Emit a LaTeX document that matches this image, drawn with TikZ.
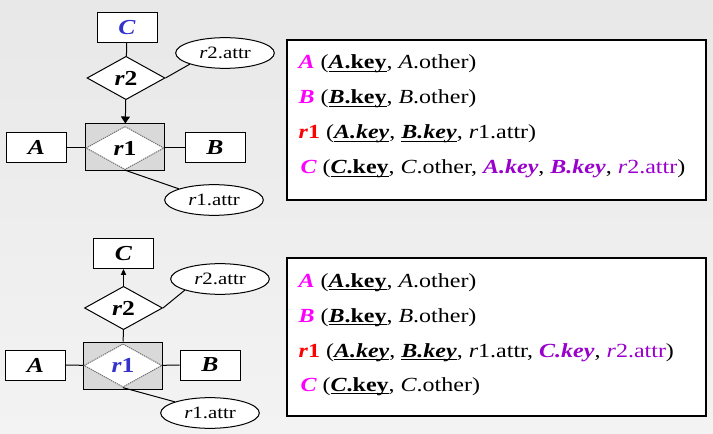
\documentclass[tikz,border=0pt]{standalone}
\usepackage{fontspec}
\setmainfont{Liberation Serif}[FakeStretch=1.2]
\usetikzlibrary{shapes.geometric,arrows.meta}

\definecolor{keymag}{RGB}{255,0,255}
\definecolor{relred}{RGB}{255,0,0}
\definecolor{fkpurp}{RGB}{153,0,204}
\definecolor{entblue}{RGB}{51,51,204}
\definecolor{aggfill}{RGB}{217,217,217}

\newcommand{\bfit}[1]{\textbf{\textit{#1}}}
\newcommand{\keyu}[1]{\sbox0{\textbf{#1}}\rlap{\rule[-2.4pt]{\wd0}{0.9pt}}\usebox0}

\tikzset{every picture/.style={line width=0.75pt}}
\tikzset{
  ent/.style={draw, fill=white, rectangle, minimum width=45pt, minimum height=22.5pt, inner sep=0pt,
    font=\fontsize{16}{19}\selectfont\bfseries\itshape},
  rel/.style={draw, fill=white, diamond, minimum width=58.5pt, minimum height=32.5pt, inner sep=0pt,
    font=\fontsize{16}{19}\selectfont\bfseries\itshape},
  reldot/.style={rel, draw=black!55, dash pattern=on 1pt off 0.6pt},
  aggbox/.style={draw, fill=aggfill, rectangle, minimum width=59.25pt, minimum height=35.25pt, inner sep=0pt},
  attr/.style={draw, fill=white, ellipse, minimum width=74pt, minimum height=23pt, inner sep=0pt,
    font=\fontsize{13}{15}\selectfont},
  schemabox/.style={draw, fill=white, rectangle, line width=1pt, minimum width=314.25pt, inner sep=0pt},
  schemaline/.style={anchor=base west, inner sep=0pt, font=\fontsize{15}{18}\selectfont},
}

\begin{document}
\begin{tikzpicture}[x=0.75pt,y=0.75pt,yscale=-1,xscale=1]
	%Shape: Background
	\shade [top color={rgb,255:red,232;green,232;blue,232}, bottom color={rgb,255:red,243;green,243;blue,243}] (0,0) rectangle (713,434);
	\useasboundingbox (0,0) rectangle (713,434);

	%% ---- top diagram ----
	% Entities
	\node[ent] (A1) at (36.5,147.5) {A};
	\node[ent] (B1) at (215,147.5) {B};
	\node[ent, text=entblue] (C1) at (127,27.5) {C};
	% Aggregation
	\node[aggbox] (agg1) at (125,147.5) {};
	\node[reldot] (r1a) at (125,148) {r\textup{1}};
	\node[rel] (r2a) at (126,78) {r\textup{2}};
	% Attributes
	\node[attr] (r2attr1) at (225,53) {\textit{r}2.attr};
	\node[attr] (r1attr1) at (214,200) {\textit{r}1.attr};
	% Connectors
	\draw (A1) -- (agg1);
	\draw (agg1) -- (B1);
	\draw (C1) -- (r2a);
	\draw [-{Triangle[length=5.25pt,width=6.75pt]}] (r2a) -- (agg1);
	\draw (r2a.east) -- (r2attr1.south west);
	\draw (r1a.south) -- (r1attr1.north west);

	% Schema box
	\node[schemabox, minimum height=120pt] (s1) at (496.5,120) {};
	\node[schemaline] (s1a) at (298,69) {{\color{keymag}\bfit{A}} (\keyu{\textit{A}.key}, \textit{A}.other)};
	\node[schemaline] (s1b) at (298,104) {{\color{keymag}\bfit{B}} (\keyu{\textit{B}.key}, \textit{B}.other)};
	\node[schemaline] (s1c) at (298,139) {{\color{relred}\bfit{r}\textbf{1}} (\keyu{\textit{A.key}}, \keyu{\textit{B.key}}, \textit{r}1.attr)};
	\node[schemaline] (s1d) at (300,174) {{\color{keymag}\bfit{C}} (\keyu{\textit{C}.key}, \textit{C}.other, {\color{fkpurp}\bfit{A.key}}, {\color{fkpurp}\bfit{B.key}}, {\color{fkpurp}\textit{r}2.attr})};

	%% ---- bottom diagram ----
	% Entities
	\node[ent] (A2) at (35.5,365) {A};
	\node[ent] (B2) at (210,365) {B};
	\node[ent] (C2) at (123.5,253.5) {C};
	% Aggregation
	\node[aggbox] (agg2) at (123,365.5) {};
	\node[reldot, text=entblue] (r1b) at (123,365.5) {r\textup{1}};
	\node[rel] (r2b) at (123.5,308) {r\textup{2}};
	% Attributes
	\node[attr] (r2attr2) at (220,279) {\textit{r}2.attr};
	\node[attr] (r1attr2) at (210,413) {\textit{r}1.attr};
	% Connectors
	\draw (A2) -- (agg2);
	\draw (agg2) -- (B2);
	\draw (r2b) -- (agg2);
	\draw [-{Triangle[length=4.5pt,width=4pt]}] (r2b) -- (C2);
	\draw (r2b.east) -- (r2attr2.south west);
	\draw (r1b.south) -- (r1attr2.north west);

	% Schema box
	\node[schemabox, minimum height=118.5pt] (s2) at (496.5,337) {};
	\node[schemaline] (s2a) at (298,287) {{\color{keymag}\bfit{A}} (\keyu{\textit{A}.key}, \textit{A}.other)};
	\node[schemaline] (s2b) at (298,322) {{\color{keymag}\bfit{B}} (\keyu{\textit{B}.key}, \textit{B}.other)};
	\node[schemaline] (s2c) at (298,357) {{\color{relred}\bfit{r}\textbf{1}} (\keyu{\textit{A.key}}, \keyu{\textit{B.key}}, \textit{r}1.attr, {\color{fkpurp}\bfit{C.key}}, {\color{fkpurp}\textit{r}2.attr})};
	\node[schemaline] (s2d) at (300,391) {{\color{keymag}\bfit{C}} (\keyu{\textit{C}.key}, \textit{C}.other)};

\end{tikzpicture}
\end{document}
